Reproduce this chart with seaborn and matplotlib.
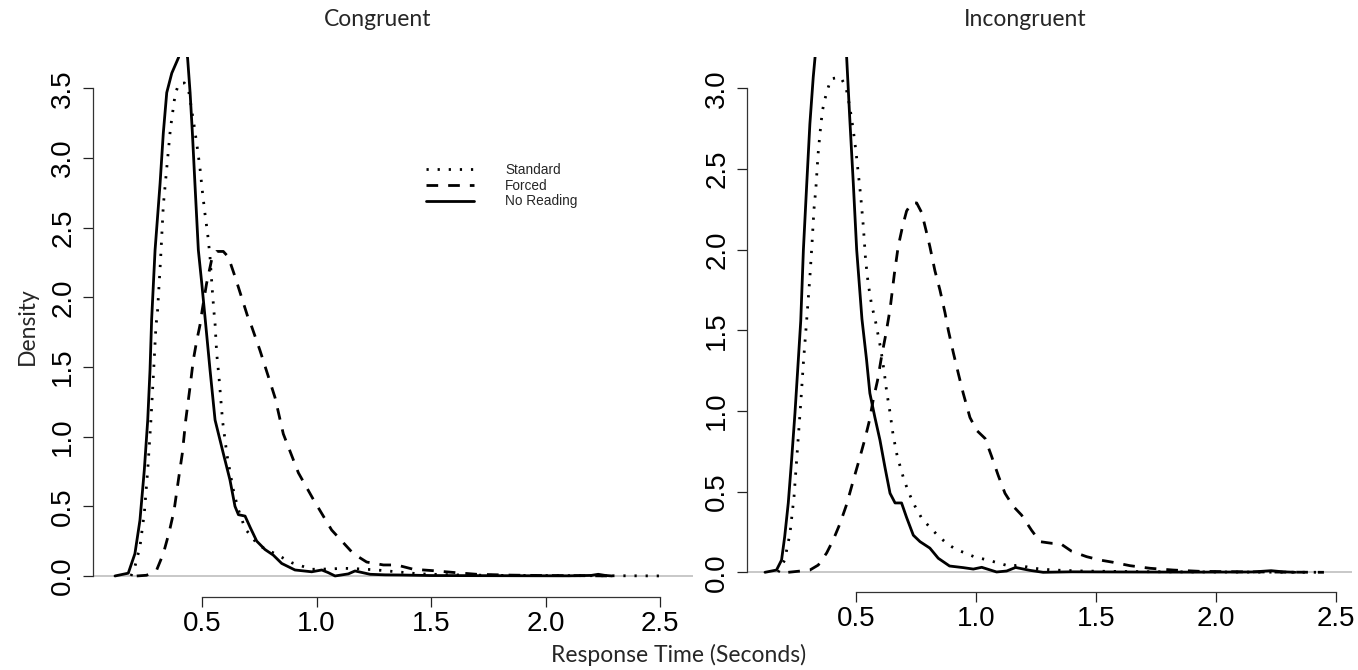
import matplotlib
matplotlib.use("Agg")
import matplotlib.pyplot as plt
import seaborn as sns

# curvas de densidad (x en segundos, y densidad)
cong_std_x = [0.19, 0.207, 0.229, 0.248, 0.263, 0.277, 0.289, 0.299, 0.305, 0.319, 0.331, 0.349, 0.362, 0.382,
              0.397, 0.423, 0.443, 0.465, 0.479, 0.491, 0.501, 0.513, 0.525, 0.535, 0.545, 0.552, 0.557, 0.564,
              0.574, 0.590, 0.609, 0.635, 0.656, 0.688, 0.746, 0.819, 0.892, 0.979, 1.05, 1.121, 1.20, 1.263,
              1.35, 1.45, 1.6, 1.8, 2.0, 2.2, 2.4, 2.53]
cong_std_y = [0.0, 0.067, 0.21, 0.45, 0.76, 1.12, 1.48, 1.80, 1.88, 2.27, 2.66, 2.98, 3.21, 3.45,
              3.53, 3.54, 3.47, 3.24, 3.08, 2.93, 2.77, 2.60, 2.45, 2.29, 2.05, 1.90, 1.81, 1.60,
              1.43, 1.11, 0.87, 0.63, 0.49, 0.34, 0.22, 0.16, 0.095, 0.048, 0.05, 0.055, 0.05, 0.043,
              0.03, 0.015, 0.008, 0.004, 0.003, 0.002, 0.001, 0.0]

cong_forced_x = [0.215, 0.258, 0.302, 0.331, 0.356, 0.378, 0.397, 0.414, 0.429, 0.448, 0.462, 0.477, 0.491,
                 0.501, 0.520, 0.542, 0.564, 0.593, 0.615, 0.644, 0.673, 0.700, 0.717, 0.753, 0.790, 0.819,
                 0.855, 0.921, 0.986, 1.066, 1.161, 1.219, 1.292, 1.350, 1.423, 1.510, 1.6, 1.7, 1.85,
                 2.0, 2.15, 2.3]
cong_forced_y = [0.0, 0.005, 0.043, 0.16, 0.31, 0.47, 0.69, 0.88, 1.12, 1.36, 1.55, 1.69, 1.80,
                 1.91, 2.10, 2.27, 2.33, 2.33, 2.29, 2.15, 2.00, 1.86, 1.79, 1.62, 1.43, 1.28,
                 1.02, 0.74, 0.55, 0.33, 0.16, 0.10, 0.079, 0.079, 0.048, 0.038, 0.025, 0.012, 0.006,
                 0.003, 0.002, 0.0]

cong_nr_x = [0.12, 0.178, 0.207, 0.229, 0.248, 0.263, 0.273, 0.280, 0.295, 0.317, 0.331, 0.346, 0.368, 0.397,
             0.42, 0.437, 0.448, 0.458, 0.469, 0.484, 0.499, 0.513, 0.535, 0.557, 0.593, 0.622, 0.644, 0.659,
             0.688, 0.710, 0.739, 0.775, 0.811, 0.848, 0.906, 0.979, 1.023, 1.05, 1.081, 1.139, 1.168, 1.234,
             1.30, 1.365, 1.5, 1.8, 2.1, 2.2, 2.23, 2.26, 2.29]
cong_nr_y = [0.0, 0.02, 0.16, 0.40, 0.76, 1.12, 1.48, 1.84, 2.34, 2.82, 3.18, 3.47, 3.61, 3.72,
             3.85, 3.72, 3.47, 3.18, 2.82, 2.34, 2.10, 1.86, 1.48, 1.12, 0.88, 0.69, 0.50, 0.44,
             0.43, 0.35, 0.25, 0.19, 0.15, 0.09, 0.043, 0.03, 0.043, 0.025, 0.0, 0.015, 0.036, 0.012,
             0.008, 0.007, 0.003, 0.002, 0.001, 0.004, 0.012, 0.004, 0.0]

incong_std_x = [0.176, 0.203, 0.225, 0.242, 0.255, 0.270, 0.281, 0.294, 0.308, 0.317, 0.325, 0.333, 0.342,
                0.350, 0.360, 0.370, 0.381, 0.396, 0.436, 0.458, 0.475, 0.489, 0.500, 0.510, 0.520, 0.531,
                0.540, 0.551, 0.565, 0.581, 0.604, 0.617, 0.628, 0.642, 0.655, 0.672, 0.697, 0.718, 0.746,
                0.776, 0.808, 0.843, 0.878, 0.913, 0.954, 0.995, 1.044, 1.093, 1.142, 1.176, 1.239, 1.322,
                1.447, 1.6, 1.8, 2.0, 2.2, 2.44]
incong_std_y = [0.0, 0.076, 0.24, 0.47, 0.74, 1.05, 1.30, 1.55, 1.83, 2.04, 2.25, 2.38, 2.59,
                2.72, 2.86, 2.93, 2.99, 3.06, 3.07, 3.01, 2.88, 2.74, 2.61, 2.47, 2.33, 2.14,
                1.94, 1.79, 1.66, 1.56, 1.38, 1.25, 1.12, 0.99, 0.85, 0.72, 0.59, 0.50, 0.41,
                0.33, 0.28, 0.225, 0.18, 0.145, 0.12, 0.095, 0.078, 0.058, 0.037, 0.045, 0.025, 0.014,
                0.008, 0.005, 0.003, 0.002, 0.001, 0.0]

incong_forced_x = [0.218, 0.308, 0.343, 0.378, 0.405, 0.433, 0.461, 0.489, 0.514, 0.538, 0.556, 0.572, 0.590,
                   0.607, 0.625, 0.642, 0.660, 0.676, 0.695, 0.711, 0.732, 0.753, 0.774, 0.792, 0.808, 0.829,
                   0.850, 0.871, 0.885, 0.906, 0.927, 0.947, 0.975, 1.003, 1.038, 1.065, 1.093, 1.121, 1.155,
                   1.19, 1.232, 1.267, 1.315, 1.35, 1.399, 1.461, 1.517, 1.572, 1.642, 1.725, 1.822, 1.933,
                   2.1, 2.3, 2.45]
incong_forced_y = [0.0, 0.014, 0.045, 0.12, 0.20, 0.30, 0.42, 0.57, 0.70, 0.83, 0.94, 1.07, 1.19,
                   1.34, 1.48, 1.63, 1.85, 2.02, 2.15, 2.24, 2.29, 2.29, 2.23, 2.12, 2.02, 1.87,
                   1.75, 1.61, 1.50, 1.36, 1.23, 1.11, 0.96, 0.88, 0.83, 0.72, 0.60, 0.49, 0.41,
                   0.355, 0.26, 0.19, 0.18, 0.18, 0.13, 0.097, 0.076, 0.062, 0.041, 0.025, 0.014, 0.006,
                   0.003, 0.001, 0.0]

incong_nr_x = [0.121, 0.169, 0.190, 0.203, 0.218, 0.232, 0.246, 0.257, 0.270, 0.281, 0.295, 0.308, 0.322,
               0.330, 0.36, 0.40, 0.44, 0.461, 0.474, 0.489, 0.503, 0.525, 0.544, 0.558, 0.579, 0.600,
               0.621, 0.642, 0.663, 0.690, 0.711, 0.739, 0.767, 0.808, 0.843, 0.890, 0.947, 0.989, 1.024,
               1.086, 1.128, 1.165, 1.225, 1.28, 1.4, 1.6, 1.9, 2.15, 2.23, 2.28, 2.33]
incong_nr_y = [0.0, 0.014, 0.076, 0.22, 0.43, 0.70, 0.99, 1.25, 1.56, 2.00, 2.41, 2.78, 3.07,
               3.20, 3.75, 4.1, 3.8, 3.20, 2.82, 2.41, 2.00, 1.57, 1.32, 1.11, 0.96, 0.82,
               0.65, 0.49, 0.43, 0.43, 0.34, 0.23, 0.19, 0.15, 0.087, 0.039, 0.029, 0.02, 0.031,
               0.002, 0.008, 0.03, 0.012, 0.0, 0.003, 0.002, 0.001, 0.002, 0.01, 0.003, 0.0]

etiquetas = ['Standard', 'Forced', 'No Reading']
xticks = [0.5, 1.0, 1.5, 2.0, 2.5]
yticks_cong = [0.0, 0.5, 1.0, 1.5, 2.0, 2.5, 3.0, 3.5]
yticks_incong = [0.0, 0.5, 1.0, 1.5, 2.0, 2.5, 3.0]

estilos = {
    'Standard': (0, (0.8, 3.2)),
    'Forced': (0, (4.2, 3.6)),
    'No Reading': '-',
}

sns.set_style('white')
plt.rcParams['font.family'] = ['Liberation Sans', 'DejaVu Sans']


def dibujar_panel(ax, curvas, yticks, xlim, ylim, con_leyenda):
    ax.axhline(0, color='#c4c4c4', lw=1.3, zorder=0)
    for nombre, (x, y) in zip(etiquetas, curvas):
        sns.lineplot(x=x, y=y, ax=ax, color='black', lw=2.0,
                     linestyle=estilos[nombre], label=nombre if con_leyenda else None,
                     legend=False)
    ax.set_xlim(xlim)
    ax.set_ylim(ylim)
    ax.set_xlabel('')
    ax.set_ylabel('')
    ax.spines['top'].set_visible(False)
    ax.spines['right'].set_visible(False)
    ax.spines['left'].set_bounds(0, yticks[-1])
    ax.spines['bottom'].set_bounds(0.5, 2.5)
    for s in ['left', 'bottom']:
        ax.spines[s].set_color('#333333')
        ax.spines[s].set_linewidth(0.9)
    ax.set_xticks(xticks)
    ax.set_xticklabels([f'{v:.1f}' for v in xticks])
    ax.set_yticks(yticks)
    ax.set_yticklabels([f'{v:.1f}' for v in yticks], rotation=90, va='center')
    ax.tick_params(axis='both', direction='out', length=7, width=0.9, color='#222222',
                   labelsize=20, labelcolor='black', bottom=True, left=True)
    ax.tick_params(axis='x', pad=3)
    ax.tick_params(axis='y', pad=5)
    ax.grid(False)


fig = plt.figure(figsize=(13.58, 6.70), dpi=100)
ax1 = fig.add_axes([93 / 1358, (670 - 597) / 670, 600 / 1358, 540 / 670])
ax2 = fig.add_axes([747 / 1358, (670 - 592.3) / 670, 605 / 1358, 535.3 / 670])

dibujar_panel(ax1, [(cong_std_x, cong_std_y), (cong_forced_x, cong_forced_y), (cong_nr_x, cong_nr_y)],
              yticks_cong, (0.024, 2.644), (-0.151, 3.726), True)
dibujar_panel(ax2, [(incong_std_x, incong_std_y), (incong_forced_x, incong_forced_y), (incong_nr_x, incong_nr_y)],
              yticks_incong, (0.046, 2.567), (-0.124, 3.195), False)

handles = [l for l in ax1.get_lines() if l.get_label() in etiquetas]
ax1.legend(handles=handles, labels=etiquetas, loc='upper left', frameon=False,
           bbox_to_anchor=(426 / 1358, 1 - 163 / 670), bbox_transform=fig.transFigure,
           fontsize=9.8, handlelength=3.5, handletextpad=2.3, labelspacing=0.12,
           borderpad=0, borderaxespad=0)

titulo = dict(family=['Lato', 'DejaVu Sans'], fontsize=16.5, ha='center', va='center')
fig.text(378 / 1358, 1 - 20 / 670, 'Congruent', **titulo)
fig.text(1025 / 1358, 1 - 20 / 670, 'Incongruent', **titulo)
fig.text(27 / 1358, 1 - 326 / 670, 'Density', rotation=90, **titulo)
fig.text(679 / 1358, 1 - 655 / 670, 'Response Time (Seconds)', **titulo)

fig.savefig('out.png', dpi=100)
